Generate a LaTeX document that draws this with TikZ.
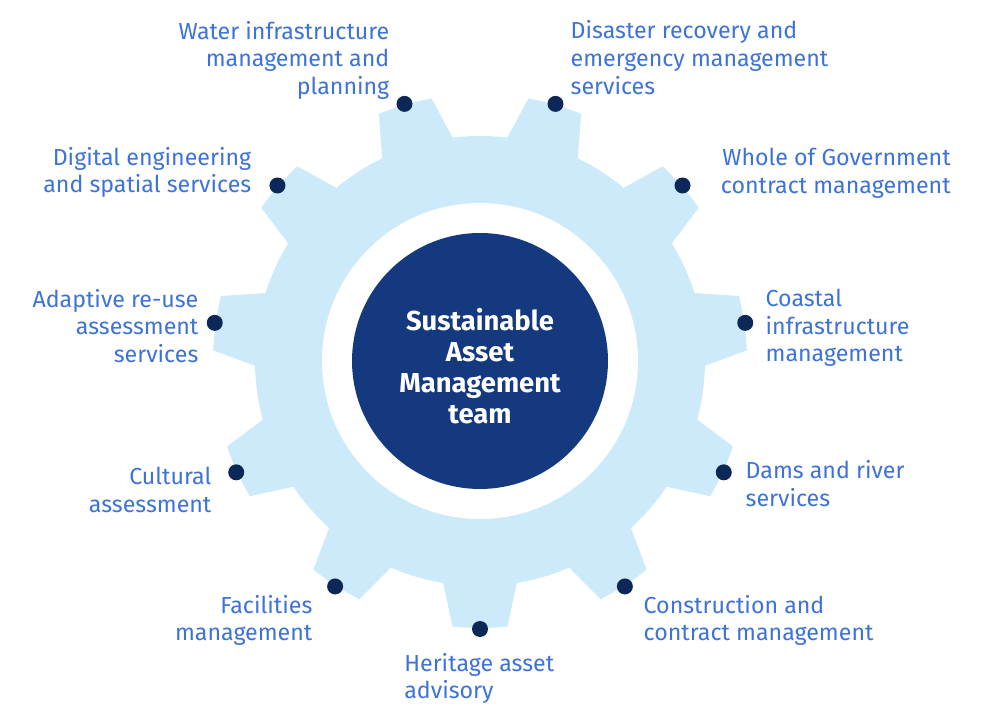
\documentclass[tikz,border=0pt]{standalone}
\usepackage{fontspec}
\setmainfont{Fira Sans}
\usetikzlibrary{positioning}

\definecolor{gearblue}{HTML}{CDEAFA}
\definecolor{hubblue}{HTML}{15397F}
\definecolor{dotblue}{HTML}{0B2858}
\definecolor{textblue}{HTML}{3D72D8}

\begin{document}
\begin{tikzpicture}[x=0.02cm, y=0.02cm,
  dot/.style={circle, fill=dotblue, minimum size=0.32cm, inner sep=0pt},
  lbl/.style={text=textblue, font=\fontsize{13.2}{15.8}\selectfont, inner sep=0pt},
  hub/.style={circle, fill=hubblue, minimum size=5.12cm, inner sep=0pt}]
\useasboundingbox (-480,-351) rectangle (520,361);
\fill[gearblue] (-99.4:225)
  \foreach \k in {0,...,10}{
    -- ({-90+\k*360/11-5.9}:267)
    arc[start angle={-90+\k*360/11-5.9}, delta angle=11.8, radius=267]
    -- ({-90+\k*360/11+9.4}:225)
    arc[start angle={-90+\k*360/11+9.4}, delta angle={360/11-18.8}, radius=225]
  } -- cycle;
\fill[white] (0,0) circle (158);
\node[hub] (hub) at (0,0) {};
\node[text=white, font=\bfseries\fontsize{15.6}{17.6}\selectfont, align=center] (team) at ([yshift=-0.1cm]hub.center) {Sustainable\\Asset\\Management\\team};
\foreach \k in {0,...,10}
  \node[dot] (d\k) at ({-90+\k*360/11}:268) {};
\node[lbl, left=0.13cm of d6, yshift=0.87cm, align=right] (water) {Water infrastructure\\management and\\planning};
\node[lbl, right=0.13cm of d5, yshift=0.93cm, align=left] (disaster) {Disaster recovery and\\emergency management\\services};
\node[lbl, anchor=east, align=right] (govt) at ([shift={(5.37cm,0.24cm)}]d4) {Whole of Government\\contract management};
\node[lbl, left=0.35cm of d7, yshift=0.26cm, align=right] (digital) {Digital engineering\\and spatial services};
\node[lbl, right=0.234cm of d3, yshift=-0.1cm, align=left] (coastal) {Coastal\\infrastructure\\management};
\node[lbl, left=0.154cm of d8, yshift=-0.06cm, align=right] (reuse) {Adaptive re-use\\assessment\\services};
\node[lbl, left=0.324cm of d9, yshift=-0.36cm, align=right] (cultural) {Cultural\\assessment};
\node[lbl, right=0.264cm of d2, yshift=-0.23cm, align=left] (dams) {Dams and river\\services};
\node[lbl, left=0.282cm of d10, yshift=-0.68cm, align=right] (facilities) {Facilities\\management};
\node[lbl, right=0.202cm of d1, yshift=-0.68cm, align=left] (construction) {Construction and\\contract management};
\node[lbl, anchor=west, align=left] (heritage) at ([shift={(-1.52cm,-0.99cm)}]d0) {Heritage asset\\advisory};
\end{tikzpicture}
\end{document}
